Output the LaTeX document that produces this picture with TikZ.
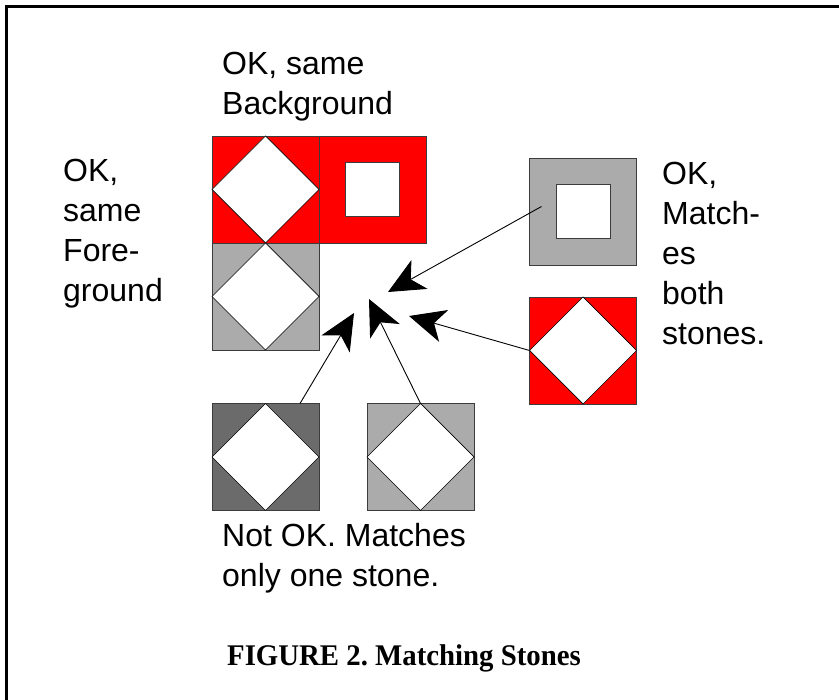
\documentclass[tikz,border=0pt]{standalone}
\usepackage{fontspec}
\setmainfont{Liberation Sans}
\newfontfamily\capfont{Liberation Serif}
\usetikzlibrary{arrows.meta,calc}

\definecolor{stonered}{HTML}{FF0000}
\definecolor{stonegray}{HTML}{ABABAB}
\definecolor{stonedark}{HTML}{6B6B6B}
\definecolor{stoneedge}{HTML}{3C3C3C}

\tikzset{
  stone/.style={draw=stoneedge, line width=0.9pt, minimum size=107pt,
                inner sep=0pt, outer sep=0pt},
  hole/.style={draw=stoneedge, fill=white, line width=0.9pt, minimum size=54pt,
               inner sep=0pt, outer sep=0pt},
  lozenge/.style={draw=black, fill=white, line width=0.7pt, line join=miter},
  % the base anchor of a multi-line label sits on its last line
  lbl/.style={font=\fontsize{32}{40}\selectfont, align=left, inner sep=0pt,
              anchor=base west},
  pointer/.style={draw=black, line width=0.9pt,
                  -{Stealth[length=36pt, width=33pt, inset=10pt]}},
}

% a stone with a white diamond touching the middle of each side
\newcommand{\diamondstone}[3]{%
  \node[stone, fill=#3] (#1) at (#2) {};
  \draw[lozenge] (#1.north) -- (#1.east) -- (#1.south) -- (#1.west) -- cycle;
}
% a stone with a white square hole in the middle
\newcommand{\ringstone}[3]{%
  \node[stone, fill=#3] (#1) at (#2) {};
  \node[hole] (#1-hole) at (#1.center) {};
}

\begin{document}
\frenchspacing
\begin{tikzpicture}[x=1pt, y=-1pt]
  \useasboundingbox (0,0) rectangle (839,700);

  % frame (open on the right and at the bottom)
  \draw[line width=3pt] (6.5,700) -- (6.5,6.5) -- (839,6.5);

  % the stones already laid
  \diamondstone{laidred}{265.5,189.5}{stonered}
  \ringstone{laidring}{372.5,189.5}{stonered}
  \diamondstone{laidgray}{265.5,296.5}{stonegray}

  % candidate stones
  \ringstone{candring}{583,211.5}{stonegray}
  \diamondstone{candred}{583,350.5}{stonered}
  \diamondstone{canddark}{265.5,457}{stonedark}
  \diamondstone{candgray}{420.5,457}{stonegray}

  % arrow tips near the free place
  \coordinate (tipA) at (388,292);
  \coordinate (tipB) at (409,316);
  \coordinate (tipC) at (369,299);
  \coordinate (tipD) at (354,313);

  \draw[pointer] ([xshift=12pt, yshift=5pt]candring.west) -- (tipA);
  \draw[pointer] (candred.west) -- (tipB);
  \draw[pointer] (candgray.north) -- (tipC);
  \draw[pointer] ([xshift=34.5pt]canddark.north) -- (tipD);

  % labels
  \node[lbl] (lbltop) at (222,115) {OK, same\\Background};
  \node[lbl] (lblleft) at (63,302) {OK,\\same\\Fore-\\ground};
  \node[lbl] (lblright) at (662,345) {OK,\\Match-\\es\\both\\stones.};
  \node[lbl] (lblbottom) at (222,587) {Not OK. Matches\\only one stone.};

  % caption
  \node[inner sep=0pt, anchor=base, xscale=0.96,
        font=\capfont\bfseries\fontsize{30}{36}\selectfont]
    (caption) at (404,666) {FIGURE 2. Matching Stones};
\end{tikzpicture}
\end{document}
